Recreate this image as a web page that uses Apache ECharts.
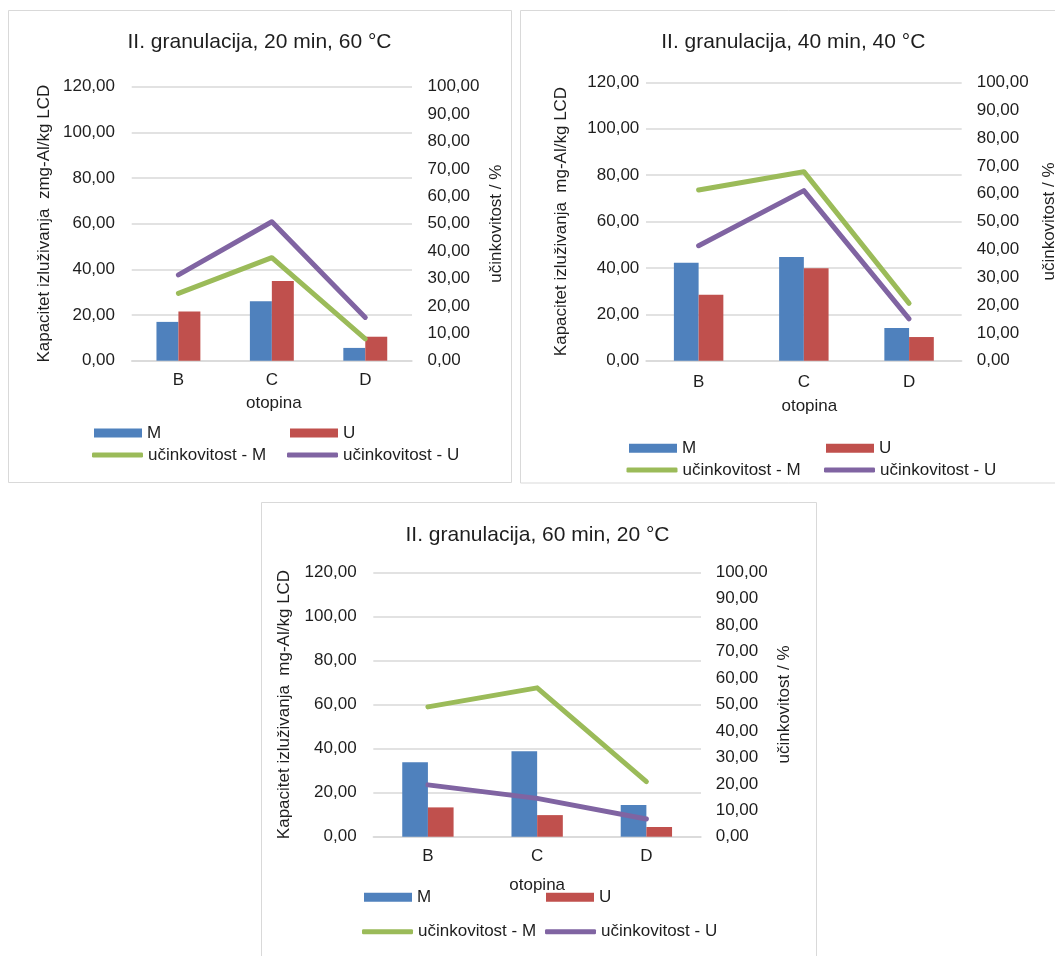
<!DOCTYPE html>
<html>
<head>
<meta charset="utf-8">
<script src="https://cdn.jsdelivr.net/npm/echarts@6/dist/echarts.min.js"></script>
<style>
html,body{margin:0;padding:0;background:#ffffff;}
#chart{width:1055px;height:956px;}
</style>
</head>
<body>
<div id="chart"></div>
<script>
// ---------------- data ----------------
const categories = ['B', 'C', 'D'];
const titles = [
  'II. granulacija, 20 min, 60 °C',
  'II. granulacija, 40 min, 40 °C',
  'II. granulacija, 60 min, 20 °C'
];
const leftAxisNames = [
  'Kapacitet izluživanja  zmg-Al/kg LCD',
  'Kapacitet izluživanja  mg-Al/kg LCD',
  'Kapacitet izluživanja  mg-Al/kg LCD'
];
const rightAxisName = 'učinkovitost / %';
const xAxisName = 'otopina';
const seriesNames = ['M', 'U', 'učinkovitost - M', 'učinkovitost - U'];

// 20 min, 60 °C
const m20 = [17.0, 26.0, 5.6];
const u20 = [21.6, 34.9, 10.5];
const effM20 = [24.6, 37.6, 8.0];
const effU20 = [31.3, 50.7, 15.8];
// 40 min, 40 °C
const m40 = [42.2, 44.7, 14.1];
const u40 = [28.4, 39.8, 10.2];
const effM40 = [61.3, 67.9, 20.6];
const effU40 = [41.3, 61.1, 15.0];
// 60 min, 20 °C
const m60 = [33.8, 38.8, 14.4];
const u60 = [13.3, 9.8, 4.4];
const effM60 = [49.1, 56.3, 20.8];
const effU60 = [19.6, 14.5, 6.7];

const leftTicks = { min: 0, max: 120, interval: 20 };
const rightTicks = { min: 0, max: 100, interval: 10 };

const chartData = [
  { m: m20, u: u20, effM: effM20, effU: effU20 },
  { m: m40, u: u40, effM: effM40, effU: effU40 },
  { m: m60, u: u60, effM: effM60, effU: effU60 }
];

// ---------------- layout & style ----------------
const FONT = '"Liberation Sans", Arial, sans-serif';
const TXT = '#1e1e1e';
const GRIDC = '#D9D9D9';
const COLORS = ['#4F81BD', '#C0504D', '#9BBB59', '#8064A2'];

const layouts = [
  { grid: { left: 131.7, top: 86.7, width: 280.3, height: 274 },
    panel: [8.5, 10.5, 503, 472], title: [259.5, 42],
    lMargin: 16.7, rMargin: 15.5, catMargin: 11, xNameGap: 34, xNamePad: 4,
    lNameGap: 79, rNameGap: 75.5,
    rows: [433, 455], rectX: [94, 290], lineX: [92, 287] },
  { grid: { left: 646, top: 82.3, width: 315.7, height: 278.4 },
    panel: [520.5, 10.5, 560, 472.5], title: [793.3, 42.7],
    lMargin: 6.7, rMargin: 15, catMargin: 13, xNameGap: 37.5, xNamePad: 11,
    lNameGap: 76.5, rNameGap: 78.8,
    rows: [448.3, 470], rectX: [629, 826], lineX: [626.5, 824] },
  { grid: { left: 373.3, top: 572.3, width: 327.7, height: 264.4 },
    panel: [261.5, 502.5, 555, 480], title: [537.5, 535],
    lMargin: 16.7, rMargin: 14.7, catMargin: 11, xNameGap: 40, xNamePad: 0,
    lNameGap: 80.5, rNameGap: 74.5,
    rows: [897.3, 931.7], rectX: [364, 546], lineX: [362, 545] }
];

const fmt = v => v.toFixed(2).replace('.', ',');

const grids = [], xAxes = [], yAxes = [], series = [], legends = [], graphics = [];

layouts.forEach((L, i) => {
  grids.push(Object.assign({ containLabel: false, outerBoundsMode: 'none' }, L.grid));

  xAxes.push({
    type: 'category', gridIndex: i, data: categories,
    name: xAxisName, nameLocation: 'middle', nameGap: L.xNameGap, nameMoveOverlap: false,
    nameTextStyle: { fontSize: 17, color: TXT, fontFamily: FONT, padding: [0, 0, 0, L.xNamePad] },
    axisLine: { show: true, lineStyle: { color: GRIDC, width: 1.5 } },
    axisTick: { show: false },
    axisLabel: { fontSize: 17, color: TXT, fontFamily: FONT, margin: L.catMargin }
  });

  yAxes.push({
    type: 'value', gridIndex: i, position: 'left',
    min: leftTicks.min, max: leftTicks.max, interval: leftTicks.interval,
    name: leftAxisNames[i], nameLocation: 'middle', nameGap: L.lNameGap, nameRotate: 90, nameMoveOverlap: false,
    nameTextStyle: { fontSize: 17, color: TXT, fontFamily: FONT },
    axisLine: { show: false }, axisTick: { show: false },
    axisLabel: { fontSize: 17, color: TXT, fontFamily: FONT, margin: L.lMargin, formatter: fmt },
    splitLine: { show: true, lineStyle: { color: GRIDC, width: 1.5 } }
  });
  yAxes.push({
    type: 'value', gridIndex: i, position: 'right',
    min: rightTicks.min, max: rightTicks.max, interval: rightTicks.interval,
    name: rightAxisName, nameLocation: 'middle', nameGap: L.rNameGap, nameRotate: 90, nameMoveOverlap: false,
    nameTextStyle: { fontSize: 17, color: TXT, fontFamily: FONT },
    axisLine: { show: false }, axisTick: { show: false },
    axisLabel: { fontSize: 17, color: TXT, fontFamily: FONT, margin: L.rMargin, formatter: fmt },
    splitLine: { show: false }
  });

  const d = chartData[i];
  series.push({
    type: 'bar', name: seriesNames[0], xAxisIndex: i, yAxisIndex: 2 * i, data: d.m,
    itemStyle: { color: COLORS[0] }, barGap: '0%', barCategoryGap: '53%'
  });
  series.push({
    type: 'bar', name: seriesNames[1], xAxisIndex: i, yAxisIndex: 2 * i, data: d.u,
    itemStyle: { color: COLORS[1] }, barGap: '0%', barCategoryGap: '53%'
  });
  series.push({
    type: 'line', name: seriesNames[2], xAxisIndex: i, yAxisIndex: 2 * i + 1, data: d.effM,
    symbol: 'none', z: 3, itemStyle: { color: COLORS[2] },
    lineStyle: { color: COLORS[2], width: 5, cap: 'round', join: 'round' }
  });
  series.push({
    type: 'line', name: seriesNames[3], xAxisIndex: i, yAxisIndex: 2 * i + 1, data: d.effU,
    symbol: 'none', z: 3, itemStyle: { color: COLORS[3] },
    lineStyle: { color: COLORS[3], width: 5, cap: 'round', join: 'round' }
  });

  const legendText = { fontSize: 17, color: TXT, fontFamily: FONT, lineHeight: 20 };
  const legendItems = [
    { name: seriesNames[0], left: L.rectX[0], top: L.rows[0] - 10, icon: 'rect', w: 48, h: 9, color: COLORS[0] },
    { name: seriesNames[1], left: L.rectX[1], top: L.rows[0] - 10, icon: 'rect', w: 48, h: 9, color: COLORS[1] },
    { name: seriesNames[2], left: L.lineX[0], top: L.rows[1] - 10, icon: 'roundRect', w: 51, h: 5, color: COLORS[2] },
    { name: seriesNames[3], left: L.lineX[1], top: L.rows[1] - 10, icon: 'roundRect', w: 51, h: 5, color: COLORS[3] }
  ];
  legendItems.forEach(it => {
    legends.push({
      show: true, selectedMode: false, orient: 'horizontal',
      left: it.left, top: it.top, padding: 0, itemGap: 0,
      itemWidth: it.w, itemHeight: it.h,
      itemStyle: { borderWidth: 0 },
      textStyle: legendText,
      data: [{ name: it.name, icon: it.icon, itemStyle: { color: it.color, borderWidth: 0 } }]
    });
  });

  graphics.push({
    type: 'rect', silent: true, z: -10,
    shape: { x: L.panel[0], y: L.panel[1], width: L.panel[2], height: L.panel[3] },
    style: { fill: 'none', stroke: GRIDC, lineWidth: 1 }
  });
  graphics.push({
    type: 'text', silent: true, x: L.title[0], y: L.title[1],
    style: { text: titles[i], fontSize: 21, fontFamily: FONT, fill: TXT,
      align: 'center', verticalAlign: 'middle', textAlign: 'center', textVerticalAlign: 'middle' }
  });
});

const chart = echarts.init(document.getElementById('chart'), null, { renderer: 'canvas' });
chart.setOption({
  backgroundColor: '#ffffff',
  animation: false,
  textStyle: { fontFamily: FONT },
  grid: grids,
  xAxis: xAxes,
  yAxis: yAxes,
  legend: legends,
  series: series,
  graphic: graphics
});
</script>
</body>
</html>
